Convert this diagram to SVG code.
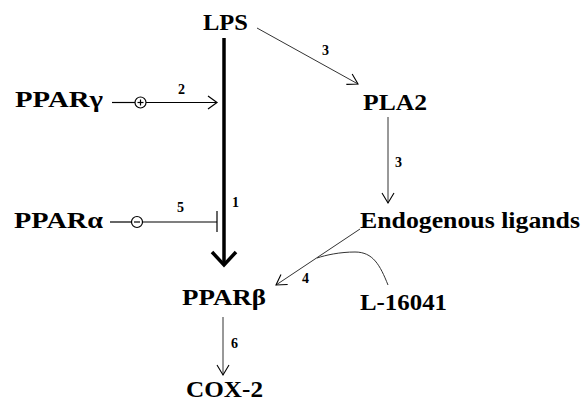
<svg xmlns="http://www.w3.org/2000/svg" width="582" height="403" viewBox="0 0 582 403">
<style>
.lbl{font-weight:bold;font-size:23px;fill:#000}
.num{font-weight:bold;font-size:14px;fill:#000}
.ln{stroke:#000;stroke-width:1.2;fill:none}
.thin{stroke:#333;stroke-width:1;fill:none}
</style>
<defs>
<marker id="open" markerUnits="userSpaceOnUse" markerWidth="14" markerHeight="14" refX="11" refY="6" orient="auto" viewBox="0 0 14 12">
<polyline points="1,0 11,6 1,12" fill="none" stroke="#000" stroke-width="1.1"/>
</marker>
</defs>
<rect width="582" height="403" fill="#fff"/>
<g id="connectors">
<line x1="224" y1="38" x2="224" y2="264" stroke="#000" stroke-width="3.5"/>
<polyline points="212,252 224,265 236,252" fill="none" stroke="#000" stroke-width="3.5"/>
<line class="ln" x1="112" y1="102.5" x2="135" y2="102.5"/>
<line class="ln" x1="146" y1="102.5" x2="217" y2="102.5"/>
<polyline class="ln" points="208,96 217,102.5 208,109"/>
<circle cx="140.5" cy="102.5" r="5.5" fill="#fff" stroke="#000" stroke-width="1.2"/>
<line class="ln" x1="137.5" y1="102.5" x2="143.5" y2="102.5"/>
<line class="ln" x1="140.5" y1="99.5" x2="140.5" y2="105.5"/>
<line class="ln" x1="110" y1="222" x2="131.5" y2="222"/>
<line class="ln" x1="142.5" y1="222" x2="217" y2="222"/>
<line class="ln" x1="217" y1="211" x2="217" y2="232"/>
<circle cx="137" cy="222" r="5.5" fill="#fff" stroke="#000" stroke-width="1.2"/>
<line class="ln" x1="134" y1="222" x2="140" y2="222"/>
<line class="thin" x1="257" y1="28" x2="358" y2="84" marker-end="url(#open)"/>
<line class="thin" x1="388" y1="117" x2="388" y2="203" marker-end="url(#open)"/>
<line class="thin" x1="360" y1="229" x2="276" y2="285" marker-end="url(#open)"/>
<path class="thin" d="M388,285 C380,265 373,252 355,252 C340,252 326,255 317,258"/>
<line class="thin" x1="223" y1="317" x2="223" y2="375" marker-end="url(#open)"/>
</g>
<g id="num-labels" font-family="Liberation Serif, serif">
<text class="num" x="178" y="94">2</text>
<text class="num" x="177" y="212">5</text>
<text class="num" x="232" y="207">1</text>
<text class="num" x="322" y="55">3</text>
<text class="num" x="395" y="167">3</text>
<text class="num" x="302" y="283">4</text>
<text class="num" x="231" y="348">6</text>
</g>
<g font-family="Liberation Serif, serif">
<g id="LPS"><text class="lbl" x="203" y="30" font-size="22" textLength="45" lengthAdjust="spacingAndGlyphs">LPS</text></g>
<g id="PPARg"><text class="lbl" x="15" y="107" textLength="88" lengthAdjust="spacingAndGlyphs">PPARγ</text></g>
<g id="PPARa"><text class="lbl" x="14" y="228" textLength="89" lengthAdjust="spacingAndGlyphs">PPARα</text></g>
<g id="PPARb"><text class="lbl" x="182" y="305" textLength="84" lengthAdjust="spacingAndGlyphs">PPARβ</text></g>
<g id="COX2"><text class="lbl" x="186" y="397" textLength="77" lengthAdjust="spacingAndGlyphs">COX-2</text></g>
<g id="PLA2"><text class="lbl" x="363" y="110" textLength="64" lengthAdjust="spacingAndGlyphs">PLA2</text></g>
<g id="Endo"><text class="lbl" x="360" y="228" textLength="220" lengthAdjust="spacingAndGlyphs">Endogenous ligands</text></g>
<g id="L16041"><text class="lbl" x="360" y="310" textLength="87" lengthAdjust="spacingAndGlyphs">L-16041</text></g>
</g>
</svg>
